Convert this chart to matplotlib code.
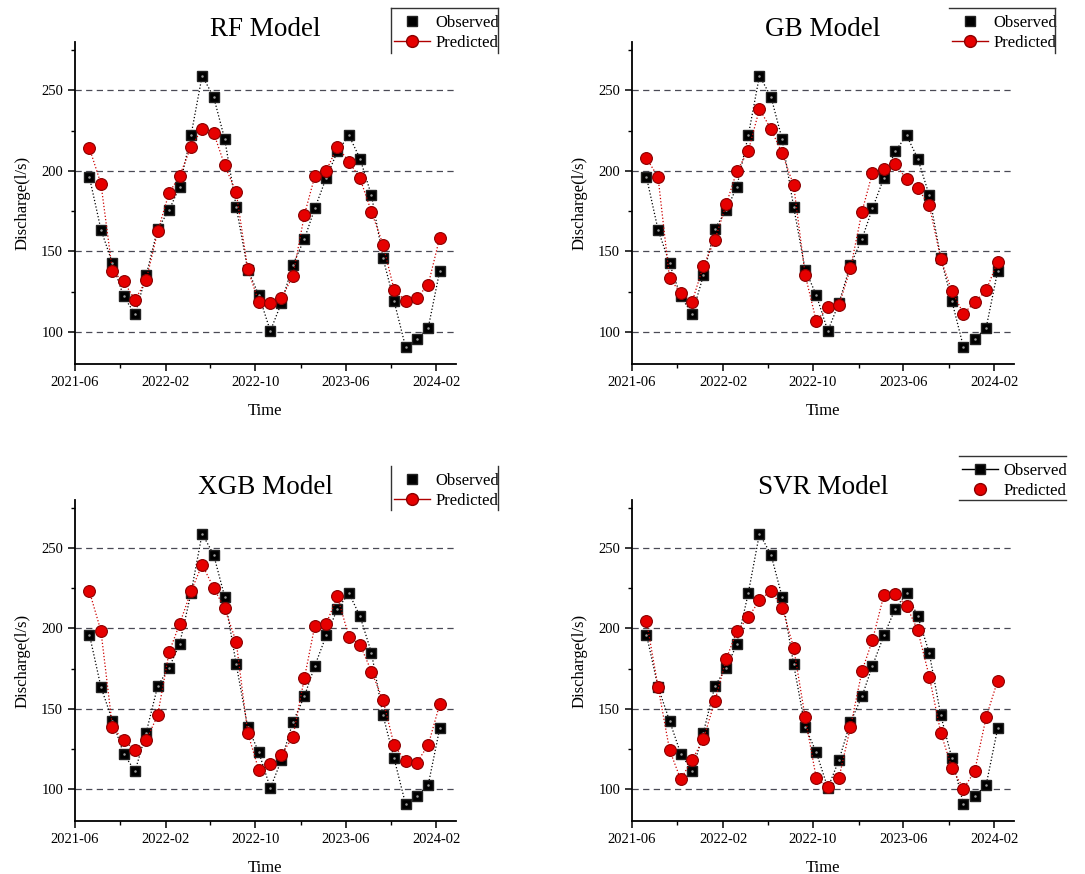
import numpy as np
import pandas as pd
import matplotlib
matplotlib.use("Agg")
import matplotlib.pyplot as plt
import matplotlib.dates as mdates
from matplotlib.lines import Line2D

plt.rcParams['font.family'] = ['Liberation Serif', 'DejaVu Serif']

# monthly observations, Jul 2021 - Feb 2024
dates = pd.date_range("2021-07-01", periods=32, freq="MS") + pd.Timedelta(days=9)

observed = [196, 163.5, 142.5, 122, 111, 135, 164, 175.6, 190, 222, 259, 246,
            219.6, 177.6, 138.6, 122.8, 100.5, 118, 141.7, 157.7, 176.6, 195.7,
            212, 222, 207.6, 184.7, 145.8, 119, 90.5, 95.5, 102.4, 137.7]

pred_rf = [214, 192, 137.7, 131.3, 119.9, 131.9, 162.3, 186.4, 196.6, 215, 225.9,
           223.6, 203.4, 186.6, 139, 118.4, 117.6, 120.7, 134.8, 172.7, 196.6,
           200.1, 215, 205.7, 195.3, 174.5, 154.2, 126.1, 119.2, 121.1, 129.2, 158.5]

pred_gb = [207.8, 196.2, 133.2, 124.2, 118.8, 140.9, 157.1, 179.5, 199.7, 212.4,
           238.4, 225.9, 210.9, 191, 135.4, 106.5, 115.3, 116.5, 139.4, 174.7,
           198.7, 201.1, 204, 194.9, 189.1, 178.5, 145.2, 125.1, 111.3, 118.2,
           125.7, 143.6]

pred_xgb = [223, 198.4, 138.6, 130.3, 124.2, 130.3, 145.8, 185.3, 202.6, 223,
            239.8, 225.3, 212.4, 191.6, 135, 111.7, 115.5, 121.3, 132.5, 169.1,
            201.6, 203, 219.9, 194.9, 189.9, 173.1, 155.4, 127.3, 117.2, 116.3,
            127.3, 152.7]

pred_svr = [204.7, 163.7, 124.4, 105.9, 118.2, 130.9, 154.8, 181.2, 198.1, 207,
            217.4, 223.6, 213, 188, 144.6, 106.5, 101.2, 106.9, 138.6, 173.5,
            192.6, 220.9, 221.5, 214, 198.8, 170, 135, 112.8, 100.1, 110.9,
            144.6, 167.5]

titles = ["RF Model", "GB Model", "XGB Model", "SVR Model"]
predictions = [pred_rf, pred_gb, pred_xgb, pred_svr]

major_ticks = pd.to_datetime(["2021-06-01", "2022-02-01", "2022-10-01",
                              "2023-06-01", "2024-02-01"])
minor_ticks = pd.to_datetime(["2021-10-01", "2022-06-01", "2023-02-01",
                              "2023-10-01"])

W, H = 1085, 874
fig = plt.figure(figsize=(W / 100, H / 100), dpi=100)

# axes boxes in pixels: left, top, right, bottom
boxes = [(75, 42, 456, 364), (632, 42, 1014, 364),
         (75, 500, 456, 821), (632, 500, 1014, 821)]
# legend frames in pixels: left, top, right, bottom, which sides are drawn
leg_boxes = [(391, 8, 498, 53, "ltr"), (949, 8, 1055, 53, "tr"),
             (391, 466, 498, 510, "lr"), (959, 456, 1066, 500, "tb")]
# which legend entries show their connecting line
leg_lines = [(False, True), (False, True), (False, True), (True, False)]


def px(x, y):
    return x / W, 1 - y / H


for i in range(4):
    l, t, r, b = boxes[i]
    ax = fig.add_axes([l / W, 1 - b / H, (r - l) / W, (b - t) / H])
    pred = predictions[i]

    ax.plot(dates, observed, ls=":", lw=0.9, color="black", marker="s",
            ms=7.5, mfc="black", mec="#222222", zorder=3)
    ax.plot(dates, observed, ls="none", marker="o", ms=1.8, mfc="#9a9a9a",
            mec="none", zorder=3.5)
    ax.plot(dates, pred, ls=":", lw=0.9, color="#cc0000", marker="o",
            ms=8.5, mfc="#e60000", mec="#8a0000", mew=0.8, zorder=4)

    for yv in [100, 150, 200, 250]:
        ax.axhline(yv, color="#4a4a55", lw=0.9, ls=(0, (5, 3.5)), zorder=1)

    ax.set_ylim(80, 280)
    ax.set_yticks([100, 150, 200, 250])
    ax.set_yticks([125, 175, 225, 275], minor=True)
    ax.set_xlim(pd.Timestamp("2021-06-01"), pd.Timestamp("2024-03-25"))
    ax.set_xticks(major_ticks)
    ax.set_xticks(minor_ticks, minor=True)
    ax.xaxis.set_major_formatter(mdates.DateFormatter("%Y-%m"))

    for side in ["top", "right"]:
        ax.spines[side].set_visible(False)
    for side in ["left", "bottom"]:
        ax.spines[side].set_linewidth(1.3)
    ax.tick_params(which="major", direction="out", length=5, width=1.1,
                   labelsize=10.5, colors="black")
    ax.tick_params(which="minor", direction="out", length=3, width=1.0)

    ax.set_xlabel("Time", fontsize=12, labelpad=10)
    ax.set_ylabel("Discharge(l/s)", fontsize=12, labelpad=8)
    ax.text(0.5, 1 + 13 / (b - t), titles[i], transform=ax.transAxes,
            ha="center", va="center", fontsize=19.5)

    # legend
    ll, lt, lr, lb, sides = leg_boxes[i]
    show_obs, show_pred = leg_lines[i]
    h_obs = Line2D([], [], color="black", lw=1.0 if show_obs else 0,
                   marker="s", ms=7, mfc="black", mec="#222222")
    h_pred = Line2D([], [], color="#b00000", lw=1.0 if show_pred else 0,
                    marker="o", ms=8.5, mfc="#e60000", mec="#8a0000")
    ax.legend([h_obs, h_pred], ["Observed", "Predicted"], loc="upper left",
              bbox_to_anchor=px(ll, lt + 4.5), bbox_transform=fig.transFigure,
              frameon=False, fontsize=12, handlelength=2.2,
              handletextpad=0.3, labelspacing=0.25, borderpad=0.15,
              borderaxespad=0)
    corners = {"l": [(ll, lt), (ll, lb)], "r": [(lr, lt), (lr, lb)],
               "t": [(ll, lt), (lr, lt)], "b": [(ll, lb), (lr, lb)]}
    for s in sides:
        (x0, y0), (x1, y1) = corners[s]
        a, c = px(x0, y0), px(x1, y1)
        fig.add_artist(Line2D([a[0], c[0]], [a[1], c[1]], color="#333333",
                              lw=1.0, transform=fig.transFigure))

fig.savefig("out.png", dpi=100, facecolor="white")
